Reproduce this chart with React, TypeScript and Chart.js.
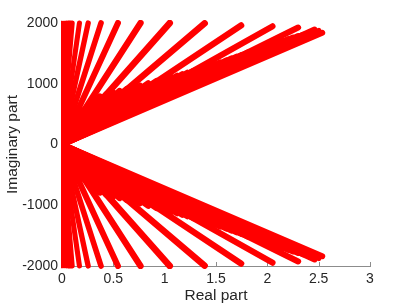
import React, { useEffect, useRef } from "react";
import { Chart, registerables } from "chart.js";
Chart.register(...registerables);

// End points of each locus ray (upper half); the lower half is the mirror image
const rayRe = [
  0, 0.012, 0.024, 0.036, 0.048, 0.06, 0.072, 0.085, 0.1,
  0.17, 0.255, 0.38, 0.545, 0.765, 1.05, 1.39,
  1.745, 2.05, 2.3, 2.46, 2.5, 2.535,
  0.1, 0.15, 0.2, 0.28, 0.37, 0.43, 0.5, 0.56, 0.63, 0.7, 0.76, 0.84, 0.92, 0.97, 1.02,
  1.07, 1.12, 1.17, 1.22, 1.28, 1.34, 1.39, 1.44, 1.49, 1.54,
  1.6, 1.65, 1.7, 1.75, 1.81, 1.87, 1.93, 1.99, 2.05, 2.1, 2.15, 2.2, 2.25, 2.3, 2.35, 2.4,
];
const rayIm = [
  2000, 2000, 2000, 2000, 2000, 2000, 2000, 2000, 2000,
  2000, 2000, 2000, 2000, 2000, 2000, 1995,
  1960, 1945, 1925, 1893, 1870, 1840,
  450, 500, 560, 700, 790, 820, 850, 880, 910, 940, 965, 1005, 1045, 1065, 1085,
  1105, 1130, 1155, 1180, 1210, 1240, 1265, 1290, 1320, 1350,
  1385, 1415, 1445, 1475, 1515, 1550, 1590, 1625, 1660, 1685, 1710, 1735, 1760, 1785, 1805, 1825,
];
const xTicks = [0, 0.5, 1, 1.5, 2, 2.5, 3];
const yTicks = [-2000, -1000, 0, 1000, 2000];

const FONT = "'Liberation Sans', Arial, Helvetica, sans-serif";
const TEXT = "#262626";
const AXIS = "#8c8c8c";

// marker-like stroke: diagonal rays look thicker than near-vertical ones
function rayWidth(c: any) {
  const pts = c.dataset && c.dataset.data;
  const s = c.chart && c.chart.scales;
  if (!pts || !s || !s.x || !s.y) return 5;
  const dx = s.x.getPixelForValue(pts[2].x) - s.x.getPixelForValue(0);
  const dy = s.y.getPixelForValue(0) - s.y.getPixelForValue(pts[2].y);
  const a = Math.atan2(dy, dx);
  return 4.6 * (1 + 0.4 * Math.abs(Math.sin(2 * a)));
}

export default function App() {
  const ref = useRef<HTMLCanvasElement>(null);
  useEffect(() => {
    document.body.style.margin = "0";
    const datasets = rayRe.map((re, i) => ({
      data: [
        { x: re, y: -rayIm[i] },
        { x: 0, y: 0 },
        { x: re, y: rayIm[i] },
      ],
      borderColor: "#ff0000",
      backgroundColor: "#ff0000",
      borderWidth: rayWidth,
      pointRadius: 0,
      borderCapStyle: "round" as const,
      borderJoinStyle: "round" as const,
      showLine: true,
      fill: false,
      clip: { left: 1, top: 3, right: 5, bottom: 3 },
    }));
    const inwardTicks = {
      id: "inwardTicks",
      beforeDatasetsDraw(chart: any) {
        const { ctx, chartArea, scales } = chart;
        ctx.save();
        ctx.strokeStyle = AXIS;
        ctx.lineWidth = 1;
        ctx.beginPath();
        for (const v of xTicks) {
          const px = Math.round(scales.x.getPixelForValue(v)) + 0.5;
          ctx.moveTo(px, chartArea.bottom);
          ctx.lineTo(px, chartArea.bottom - 4);
        }
        for (const v of yTicks) {
          const py = Math.round(scales.y.getPixelForValue(v)) + 0.5;
          ctx.moveTo(chartArea.left, py);
          ctx.lineTo(chartArea.left + 4, py);
        }
        ctx.stroke();
        ctx.restore();
      },
    };
    const chart = new Chart(ref.current!, {
      type: "scatter",
      data: { datasets: datasets as any },
      options: {
        animation: false,
        responsive: false,
        layout: { padding: { top: 23, right: 39, left: 0, bottom: 0 } },
        plugins: { legend: { display: false }, tooltip: { enabled: false } },
        scales: {
          x: {
            type: "linear",
            min: 0,
            max: 3,
            afterBuildTicks: (s: any) => {
              s.ticks = xTicks.map((v) => ({ value: v }));
            },
            afterFit: (s: any) => {
              s.height = 41;
            },
            grid: { display: false, drawTicks: false },
            border: { display: true, color: AXIS, width: 1 },
            ticks: {
              font: { family: FONT, size: 14 },
              color: TEXT,
              padding: 5,
              maxRotation: 0,
              autoSkip: false,
              callback: (v: any) => String(v),
            },
            title: {
              display: true,
              text: "Real part",
              font: { family: FONT, size: 15.5 },
              color: TEXT,
              padding: { top: 0, bottom: 2 },
            },
          },
          y: {
            type: "linear",
            min: -2000,
            max: 2000,
            afterBuildTicks: (s: any) => {
              s.ticks = yTicks.map((v) => ({ value: v }));
            },
            afterFit: (s: any) => {
              s.width = 62;
            },
            grid: { display: false, drawTicks: false },
            border: { display: true, color: AXIS, width: 1 },
            ticks: {
              font: { family: FONT, size: 14 },
              color: TEXT,
              padding: 4,
              autoSkip: false,
              callback: (v: any) => String(v),
            },
            title: {
              display: true,
              text: "Imaginary part",
              font: { family: FONT, size: 15.5 },
              color: TEXT,
              padding: { top: 3, bottom: 0 },
            },
          },
        },
      },
      plugins: [inwardTicks],
    });
    return () => chart.destroy();
  }, []);
  return (
    <div style={{ width: 409, height: 307 }}>
      <canvas ref={ref} width={409} height={307} />
    </div>
  );
}
